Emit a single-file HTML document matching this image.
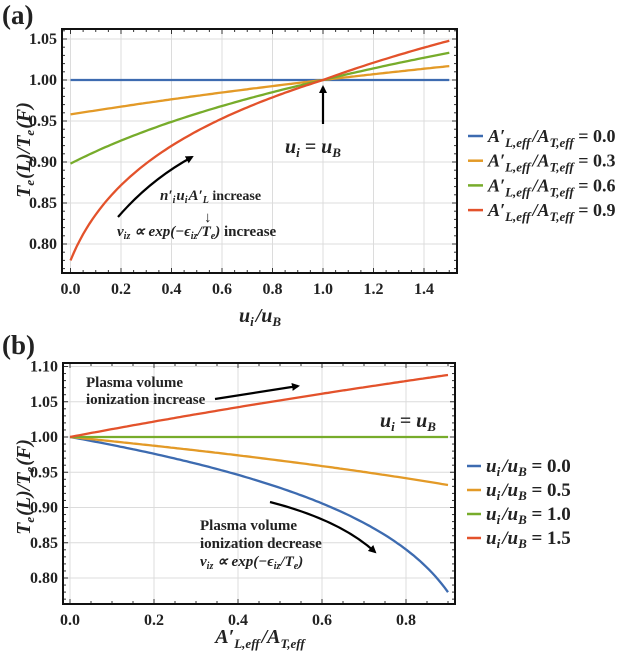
<!DOCTYPE html>
<html><head><meta charset="utf-8"><style>
body{margin:0;background:#fff}
svg{display:block}
text{font-family:"Liberation Serif",serif;font-weight:bold;fill:#222}
.tk{font-size:16px}
.m{font-style:italic}
</style></head><body>
<svg id="s" width="636" height="655" viewBox="0 0 636 655" xmlns="http://www.w3.org/2000/svg">
<defs><marker id="ah" markerWidth="8" markerHeight="8" refX="6" refY="4" orient="auto" markerUnits="userSpaceOnUse"><path d="M0,0 L8,4 L0,8 z" fill="#000"/></marker></defs>
<g id="g"></g>
<text x="2" y="24" font-size="27">(a)</text>
<text x="2" y="354" font-size="27">(b)</text>
<text class="m" transform="translate(30,150) rotate(-90)" text-anchor="middle" font-size="20">T<tspan font-size="13" dy="4">e</tspan><tspan dy="-4" dx="1">(L)/T</tspan><tspan font-size="13" dy="4">e</tspan><tspan dy="-4" dx="1">(F)</tspan></text>
<text class="m" x="260" y="322" text-anchor="middle" font-size="20">u<tspan font-size="13" dy="4">i</tspan><tspan dy="-4" dx="2">/u</tspan><tspan font-size="13" dy="4">B</tspan></text>
<text class="m" transform="translate(30,487) rotate(-90)" text-anchor="middle" font-size="20">T<tspan font-size="13" dy="4">e</tspan><tspan dy="-4" dx="1">(L)/T</tspan><tspan font-size="13" dy="4">e</tspan><tspan dy="-4" dx="1">(F)</tspan></text>
<text class="m" x="260" y="643" text-anchor="middle" font-size="20">A′<tspan font-size="13" dy="5">L,eff</tspan><tspan dy="-5" dx="2">/A</tspan><tspan font-size="13" dy="5">T,eff</tspan></text>
<text class="m" x="285" y="153" font-size="20">u<tspan font-size="13" dy="4">i</tspan><tspan dy="-4"> = u</tspan><tspan font-size="13" dy="4">B</tspan></text>
<line x1="323" y1="124" x2="323" y2="87" stroke="#000" stroke-width="2.2" marker-end="url(#ah)"/>
<text x="160" y="200" font-size="14"><tspan class="m" font-size="15">n′<tspan font-size="10" dy="3">i</tspan><tspan dy="-3" dx="1">u</tspan><tspan font-size="10" dy="3">i</tspan><tspan dy="-3" dx="1">A′</tspan><tspan font-size="10" dy="3">L</tspan></tspan><tspan dy="-3"> increase</tspan></text>
<text x="204" y="222" font-size="15" font-weight="normal">↓</text>
<text x="117" y="236" font-size="15"><tspan class="m">ν<tspan font-size="10" dy="3">iz</tspan><tspan dy="-3"> ∝ exp(−ϵ</tspan><tspan font-size="10" dy="3">iz</tspan><tspan dy="-3">/T</tspan><tspan font-size="10" dy="3">e</tspan><tspan dy="-3">)</tspan></tspan> increase</text>
<path d="M118,217 Q150,180 192,157" fill="none" stroke="#000" stroke-width="2.2" marker-end="url(#ah)"/>
<text x="86" y="387" font-size="15">Plasma volume</text>
<text x="86" y="404" font-size="15">ionization increase</text>
<line x1="215" y1="399" x2="298" y2="386" stroke="#000" stroke-width="2.2" marker-end="url(#ah)"/>
<text class="m" x="380" y="427" font-size="20">u<tspan font-size="13" dy="4">i</tspan><tspan dy="-4"> = u</tspan><tspan font-size="13" dy="4">B</tspan></text>
<text x="200" y="530" font-size="15">Plasma volume</text>
<text x="200" y="548" font-size="15">ionization decrease</text>
<text x="200" y="566" font-size="15" class="m">ν<tspan font-size="10" dy="3">iz</tspan><tspan dy="-3"> ∝ exp(−ϵ</tspan><tspan font-size="10" dy="3">iz</tspan><tspan dy="-3">/T</tspan><tspan font-size="10" dy="3">e</tspan><tspan dy="-3">)</tspan></text>
<path d="M270,502 Q340,520 375,552" fill="none" stroke="#000" stroke-width="2.2" marker-end="url(#ah)"/>
<g id="leg"></g>
</svg>
<script>
var NS="http://www.w3.org/2000/svg",g=document.getElementById('g');
function el(t,a,p){var e=document.createElementNS(NS,t);for(var k in a)e.setAttribute(k,a[k]);(p||g).appendChild(e);return e;}
var C=['#3d6bb0','#e39a27','#77ac2b','#e3522b'];
function panel(P){
 var X=function(v){return P.x0+(v-P.xa)*P.sx},Y=function(v){return P.y0-(v-P.ya)*P.sy};
 P.xt.forEach(function(v){el('line',{x1:X(v),x2:X(v),y1:P.T,y2:P.B,stroke:'#dcdcdc','stroke-width':1});
  var t=el('text',{x:X(v),y:P.B+21,'text-anchor':'middle','class':'tk'});t.textContent=v.toFixed(1);});
 P.yt.forEach(function(v){el('line',{x1:P.L,x2:P.R,y1:Y(v),y2:Y(v),stroke:'#dcdcdc','stroke-width':1});
  var t=el('text',{x:P.L-5,y:Y(v)+5,'text-anchor':'end','class':'tk'});t.textContent=v.toFixed(2);});
 for(var v=P.xa;v<=P.xmax+1e-9;v+=0.05){var x=X(v);var big=Math.abs(v*5-Math.round(v*5))<1e-6;
  el('line',{x1:x,x2:x,y1:P.B,y2:P.B-(big?5:3),stroke:'#333'});el('line',{x1:x,x2:x,y1:P.T,y2:P.T+(big?5:3),stroke:'#333'});}
 for(var v=0.75;v<=P.ymax;v+=0.01){var y=Y(v);if(y<P.T||y>P.B)continue;var big=Math.abs(v*20-Math.round(v*20))<1e-6;
  el('line',{x1:P.L,x2:P.L+(big?5:3),y1:y,y2:y,stroke:'#333'});el('line',{x1:P.R,x2:P.R-(big?5:3),y1:y,y2:y,stroke:'#333'});}
 P.curves.forEach(function(c,i){var d='';for(var k=0;k<=120;k++){var u=P.xa+(P.xe-P.xa)*k/120;d+=(k?'L':'M')+X(u).toFixed(1)+','+Y(c(u)).toFixed(1);}
  el('path',{d:d,fill:'none',stroke:C[i],'stroke-width':2.3});});
 el('rect',{x:P.L,y:P.T,width:P.R-P.L,height:P.B-P.T,fill:'none',stroke:'#111','stroke-width':2});
}
function pw(A,b,e){return function(u){var v=Math.pow(1-A+A*u,b);return u>1?1+(v-1)*e:v;};}
var b1=function(A){return Math.log([1,0.958,0.898,0.78][A])/Math.log([1,0.7,0.4,0.1][A]);};
panel({L:62,R:457,T:29,B:273,x0:70.5,xa:0,sx:252.5,y0:80,ya:1,sy:820,xe:1.5,xmax:1.5,ymax:1.07,
 xt:[0,0.2,0.4,0.6,0.8,1.0,1.2,1.4],yt:[0.8,0.85,0.9,0.95,1.0,1.05],
 curves:[function(){return 1},pw(0.3,b1(1),1),pw(0.6,b1(2),1.06),pw(0.9,b1(3),1.17)]});
panel({L:63,R:455,T:363,B:604,x0:70,xa:0,sx:420,y0:437,ya:1,sy:705,xe:0.9,xmax:0.9,ymax:1.11,
 xt:[0,0.2,0.4,0.6,0.8],yt:[0.8,0.85,0.9,0.95,1.0,1.05,1.1],
 curves:[function(A){return Math.pow(1-A,0.108)},function(A){return Math.pow(1-A/2,0.118)},function(){return 1},function(A){return Math.pow(1+A/2,0.227)}]});
var lg=document.getElementById('leg');
['0.0','0.3','0.6','0.9'].forEach(function(v,i){var y=136+i*24.7;
 el('line',{x1:468,x2:483,y1:y,y2:y,stroke:C[i],'stroke-width':2.5},lg);
 var t=el('text',{x:488,y:y+6,'font-size':18},lg);
 t.innerHTML='<tspan font-style="italic">A′<tspan font-size="13" dy="5">L,eff</tspan><tspan dy="-5" dx="2">/A</tspan><tspan font-size="13" dy="5">T,eff</tspan></tspan><tspan dy="-5"> = '+v+'</tspan>';});
['0.0','0.5','1.0','1.5'].forEach(function(v,i){var y=466+i*24;
 el('line',{x1:467,x2:481,y1:y,y2:y,stroke:C[i],'stroke-width':2.5},lg);
 var t=el('text',{x:486,y:y+6,'font-size':19},lg);
 t.innerHTML='<tspan font-style="italic">u<tspan font-size="13" dy="4">i</tspan><tspan dy="-4" dx="2">/u</tspan><tspan font-size="13" dy="4">B</tspan></tspan><tspan dy="-4"> = '+v+'</tspan>';});
</script>
</body></html>
